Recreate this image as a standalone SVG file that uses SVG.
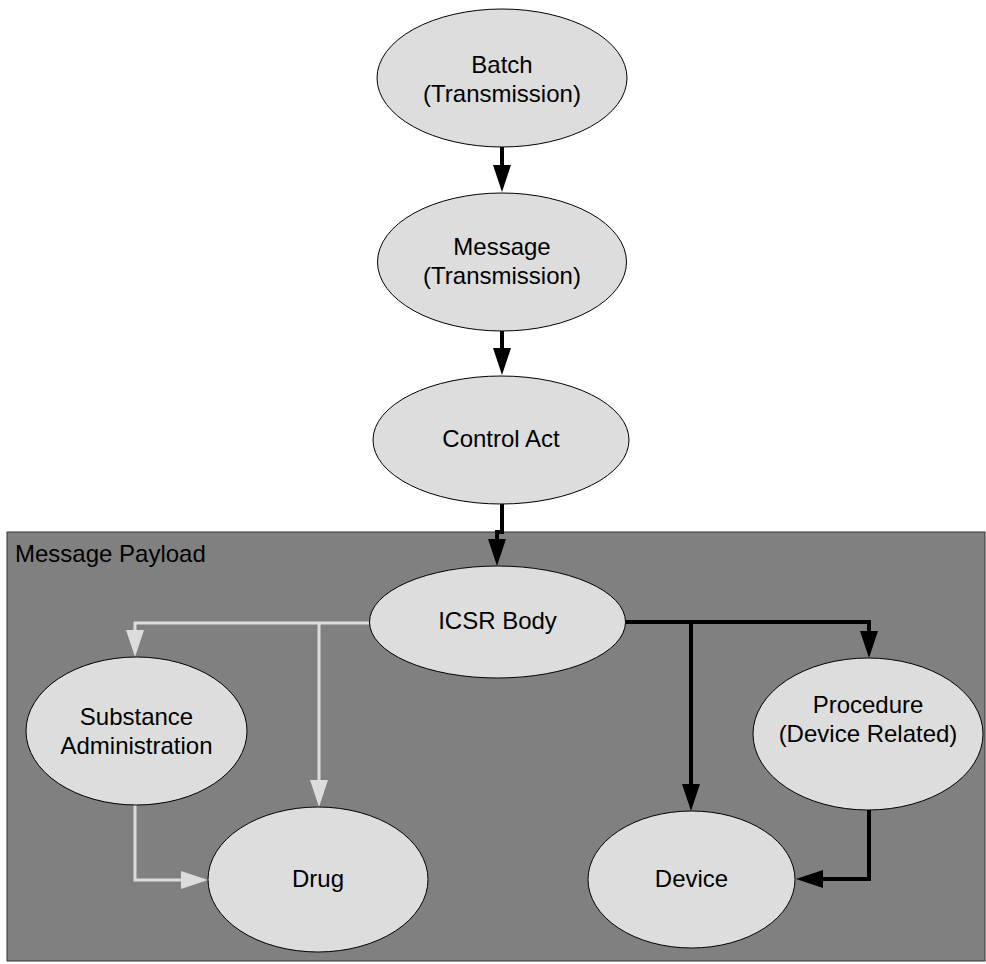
<svg xmlns="http://www.w3.org/2000/svg" width="986" height="964" viewBox="0 0 986 964">
  <style>
    .node ellipse { fill: #dddddd; stroke: #000000; stroke-width: 1; }
    .node text, .label { font-family: "Liberation Sans", Arial, sans-serif; font-size: 24px; fill: #000000; }
    .node text { text-anchor: middle; }
    .dark { fill: none; stroke: #000000; stroke-width: 4; marker-end: url(#headDark); }
    .light { fill: none; stroke: #dcdcdc; stroke-width: 3; marker-end: url(#headLight); }
  </style>
  <defs>
    <marker id="headDark" markerUnits="userSpaceOnUse" markerWidth="30" markerHeight="20" refX="2" refY="9" orient="auto">
      <path d="M0,0 L27,9 L0,18 Z" fill="#000000"/>
    </marker>
    <marker id="headLight" markerUnits="userSpaceOnUse" markerWidth="30" markerHeight="20" refX="2" refY="9" orient="auto">
      <path d="M0,0 L27,9 L0,18 Z" fill="#dcdcdc"/>
    </marker>
  </defs>

  <rect width="986" height="964" fill="#ffffff"/>

  <!-- payload container -->
  <g id="message-payload">
    <rect x="7" y="532" width="978" height="429" fill="#808080" stroke="#333333" stroke-width="1"/>
    <text class="label" x="15" y="562">Message Payload</text>
  </g>

  <!-- connectors -->
  <g id="connectors">
    <path class="dark" d="M502,147 V167"/>
    <path class="dark" d="M502,331 V350"/>
    <path class="dark" d="M502,504 V532 H497 V541"/>
    <path class="light" d="M369,623 H135 V632"/>
    <path class="light" d="M319,623 V782"/>
    <path class="light" d="M135,805 V880 H183"/>
    <path class="dark" d="M626,622 H869 V633"/>
    <path class="dark" d="M691,622 V786"/>
    <path class="dark" d="M869,810 V879 H821"/>
  </g>

  <g id="batch" class="node">
    <ellipse cx="502" cy="78" rx="125" ry="69"/>
    <text x="502" y="73">Batch</text>
    <text x="502" y="102">(Transmission)</text>
  </g>

  <g id="message" class="node">
    <ellipse cx="502" cy="262" rx="124.5" ry="69"/>
    <text x="502" y="255">Message</text>
    <text x="502" y="284">(Transmission)</text>
  </g>

  <g id="control-act" class="node">
    <ellipse cx="501" cy="440" rx="128" ry="64"/>
    <text x="501" y="447">Control Act</text>
  </g>

  <g id="icsr-body" class="node">
    <ellipse cx="497.5" cy="622" rx="128" ry="56"/>
    <text x="497.5" y="629">ICSR Body</text>
  </g>

  <g id="substance-administration" class="node">
    <ellipse cx="136.5" cy="731" rx="110.5" ry="74"/>
    <text x="136.5" y="725">Substance</text>
    <text x="136.5" y="754">Administration</text>
  </g>

  <g id="drug" class="node">
    <ellipse cx="318" cy="879.5" rx="110" ry="72.5"/>
    <text x="318" y="887">Drug</text>
  </g>

  <g id="device" class="node">
    <ellipse cx="691.5" cy="879.5" rx="103.5" ry="68.5"/>
    <text x="691.5" y="887">Device</text>
  </g>

  <g id="procedure" class="node">
    <ellipse cx="868" cy="734" rx="115" ry="76"/>
    <text x="868" y="713">Procedure</text>
    <text x="868" y="742">(Device Related)</text>
  </g>
</svg>
